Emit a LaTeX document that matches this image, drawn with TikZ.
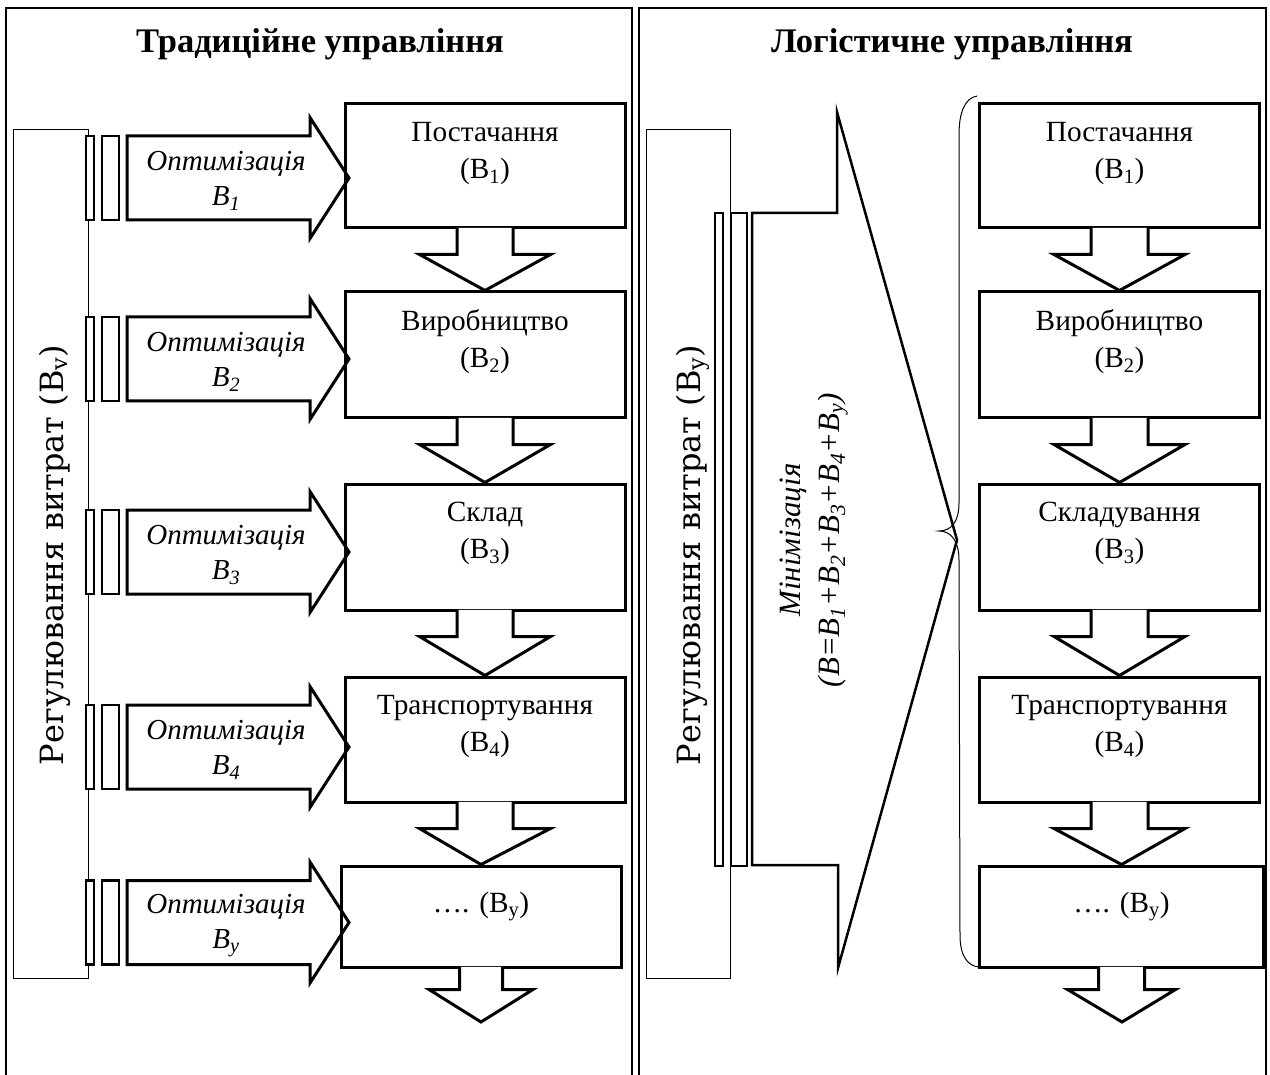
\documentclass[tikz,border=0pt]{standalone}
\usepackage{fontspec}
\setmainfont{Liberation Serif}
\newfontfamily\regfont{DejaVu Serif}
\usetikzlibrary{calc}
\newcommand\downblock[5]{%
  \fill[white] ($(#1)+(-#3,-1.6)$) -- ($(#1)+(-#3,#5)$) -- ($(#1)+(-#4,#5)$) -- (#2) -- ($(#1)+(#4,#5)$) -- ($(#1)+(#3,#5)$) -- ($(#1)+(#3,-1.6)$) -- cycle;
  \draw[blockline] ($(#1)+(-#3,-1.5)$) -- ($(#1)+(-#3,#5)$) -- ($(#1)+(-#4,#5)$) -- (#2) -- ($(#1)+(#4,#5)$) -- ($(#1)+(#3,#5)$) -- ($(#1)+(#3,-1.5)$);}
\newcommand\optrow[3]{%
  \node[barbox,minimum width=8pt,minimum height=84pt] (ba#3) at (90,#1) {};
  \node[barbox,minimum width=17pt,minimum height=84pt] (bb#3) at (110.5,#1) {};
  \coordinate (tip#3) at (349,#1);
  \draw[blockline] (127,#1-42) -- (310,#1-42) -- (310,#1-60.5) -- (tip#3) -- (310,#1+60.5) -- (310,#1+42) -- (127,#1+42) -- cycle;
  \node[opttext] (ot#3) at (226,#1+3) {Оптимізація\\#2};}
\begin{document}
\begin{tikzpicture}[x=1pt,y=-1pt,
  framel/.style={line width=1.5pt},
  ttl/.style={font=\fontsize{34.5}{40}\selectfont\bfseries,inner sep=0pt},
  procbox/.style={draw,line width=3pt,minimum width=280pt,inner sep=0pt},
  boxtext/.style={align=center,font=\fontsize{29.3}{37}\selectfont,inner sep=0pt},
  opttext/.style={align=center,font=\fontsize{29}{35}\selectfont\itshape,inner sep=0pt},
  mintext/.style={align=center,font=\fontsize{31}{38.5}\selectfont\itshape,inner sep=0pt,rotate=90},
  blockline/.style={draw,line width=3pt,line join=miter},
  barbox/.style={draw,line width=2.5pt,fill=white,inner sep=0pt},
  regrect/.style={draw,line width=1pt},
  regtext/.style={font=\fontsize{32}{38}\regfont,rotate=90,inner sep=0pt},
  bracel/.style={draw,line width=1pt}
]
\useasboundingbox (0,0) rectangle (1270,1075);
% frames
\draw[framel] (6,1075) -- (6,8) -- (632,8) -- (632,1075);
\draw[framel] (639,1075) -- (639,8) -- (1266,8) -- (1266,1075);
\node[ttl] (tL) at (320,44) {Традиційне управління};
\node[ttl] (tR) at (952,44) {Логістичне управління};
% ---------- left panel ----------
\node[regrect,minimum width=75pt,minimum height=848pt,inner sep=0pt] (regL) at (51,554) {};
\node[regtext] (regLt) at (55,555) {Регулювання витрат (B\textsubscript{v})};
\optrow{178}{B\textsubscript{1}}{1}
\optrow{359}{B\textsubscript{2}}{2}
\optrow{552}{B\textsubscript{3}}{3}
\optrow{747}{B\textsubscript{4}}{4}
\optrow{922.5}{B\textsubscript{y}}{5}
\node[procbox,minimum height=124pt] (L1) at (485,166) {};
\node[procbox,minimum height=126pt] (L2) at (485,355) {};
\node[procbox,minimum height=126pt] (L3) at (485,547) {};
\node[procbox,minimum height=125pt] (L4) at (485,739.5) {};
\node[procbox,minimum height=101pt] (L5) at (481,916.5) {};
\coordinate (tipL) at (481,1022);
\downblock{L1.south}{L2.north}{28}{65.5}{25}
\downblock{L2.south}{L3.north}{28}{65.5}{25}
\downblock{L3.south}{L4.north}{28}{65.5}{25}
\downblock{L4.south}{L5.north}{28}{65.5}{25}
\downblock{L5.south}{tipL}{21.5}{52}{21}
\node[boxtext] (L1t) at ($(L1.north)+(0,51)$) {Постачання\\(B\textsubscript{1})};
\node[boxtext] (L2t) at ($(L2.north)+(0,51)$) {Виробництво\\(B\textsubscript{2})};
\node[boxtext] (L3t) at ($(L3.north)+(0,51)$) {Склад\\(B\textsubscript{3})};
\node[boxtext] (L4t) at ($(L4.north)+(0,51)$) {Транспортування\\(B\textsubscript{4})};
\node[boxtext] (L5t) at ($(L5.north)+(0,42)$) {…. (B\textsubscript{y})};
% ---------- right panel ----------
\node[regrect,minimum width=84pt,minimum height=848pt,inner sep=0pt] (regR) at (688,554) {};
\node[regtext] (regRt) at (693,555) {Регулювання витрат (B\textsubscript{y})};
\node[barbox,minimum width=8pt,minimum height=653pt] (rba) at (719,539.5) {};
\node[barbox,minimum width=16pt,minimum height=653pt] (rbb) at (739,539.5) {};
\coordinate (bigtip) at (957,540);
\draw[blockline,line width=2.5pt] (752,213) -- (837,213) -- (837,112) -- (bigtip) -- (838,968) -- (838,865) -- (752,865) -- cycle;
\node[mintext] (mn) at (814,540) {Мінімізація\\(B=B\textsubscript{1}+B\textsubscript{2}+B\textsubscript{3}+B\textsubscript{4}+B\textsubscript{y})};
\draw[bracel] (977,96) .. controls (965,98) and (959,112) .. (959,135) -- (959,503)
  .. controls (959,522) and (951,531) .. (939,531)
  .. controls (951,531) and (959,541) .. (959,560) -- (960,935)
  .. controls (960,955) and (967,966) .. (979,967);
\node[procbox,minimum height=124pt] (R1) at (1119.5,166) {};
\node[procbox,minimum height=126pt] (R2) at (1119.5,355) {};
\node[procbox,minimum height=126pt] (R3) at (1119.5,547) {};
\node[procbox,minimum height=125pt] (R4) at (1119.5,739.5) {};
\node[procbox,minimum height=101pt,minimum width=284pt] (R5) at (1121.5,916.5) {};
\coordinate (tipR) at (1122,1022);
\downblock{R1.south}{R2.north}{28.5}{65.5}{25}
\downblock{R2.south}{R3.north}{28.5}{65.5}{25}
\downblock{R3.south}{R4.north}{28.5}{65.5}{25}
\downblock{R4.south}{R5.north}{28.5}{65.5}{25}
\downblock{R5.south}{tipR}{23}{54}{21}
\node[boxtext] (R1t) at ($(R1.north)+(0,51)$) {Постачання\\(B\textsubscript{1})};
\node[boxtext] (R2t) at ($(R2.north)+(0,51)$) {Виробництво\\(B\textsubscript{2})};
\node[boxtext] (R3t) at ($(R3.north)+(0,51)$) {Складування\\(B\textsubscript{3})};
\node[boxtext] (R4t) at ($(R4.north)+(0,51)$) {Транспортування\\(B\textsubscript{4})};
\node[boxtext] (R5t) at ($(R5.north)+(0,42)$) {…. (B\textsubscript{y})};
\end{tikzpicture}
\end{document}
